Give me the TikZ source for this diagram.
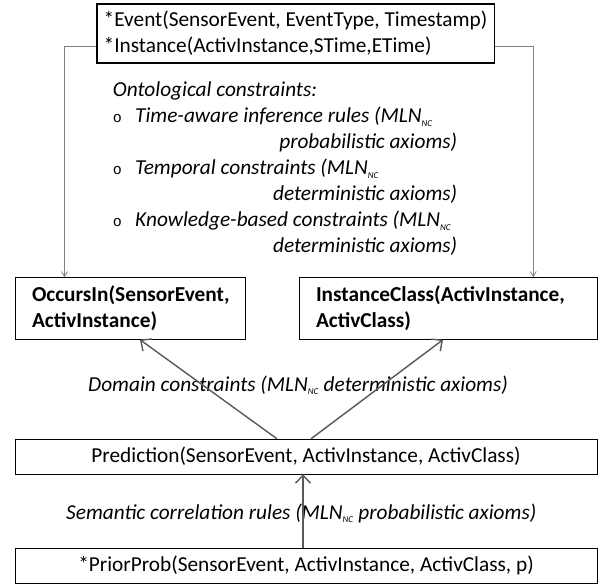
\documentclass[tikz,border=0pt]{standalone}
\usepackage{fontspec}
\usepackage{array}
\setmainfont{Carlito}
\newfontfamily\bulletfont{Liberation Mono}
\usetikzlibrary{arrows.meta}

\newcommand{\mlnnc}{MLN\textsubscript{\fontsize{9}{9}\selectfont NC}}
\newcommand{\obul}{{\upshape\bulletfont\fontsize{15}{15}\selectfont o}}

\begin{document}
\begin{tikzpicture}[x=1pt, y=-1pt,
    every node/.style={font=\fontsize{21.3}{26}\selectfont},
    predbox/.style={draw,
      minimum width=582pt,
      minimum height=35pt,
      inner sep=0pt},
    outbox/.style={draw,
      align=left,
      font=\fontsize{21.3}{26}\selectfont\bfseries,
      inner xsep=17pt,
      inner ysep=0pt,
      minimum height=62pt},
    thinarrow/.style={-{Straight Barb[length=5pt,width=6pt]},
      draw=gray, line width=0.8pt},
    thickarrow/.style={-{Straight Barb[length=8pt,width=15pt]},
      draw=black!65, line width=1.4pt}]

    \useasboundingbox (0,0) rectangle (613,585);

    % Event / Instance input
    \node[draw,
      line width=1.6pt,
      align=left,
      inner xsep=5pt,
      minimum width=397.6pt,
      minimum height=58.7pt] (obs) at (295.5,33.4)
      {*Event(SensorEvent, EventType, Timestamp)\\{}*Instance(ActivInstance,STime,ETime)};

    % Ontological constraints
    \node[anchor=base west, inner sep=0pt] (onto) at (112.7,97) {%
      \begin{tabular}[t]{@{}p{22.3pt}@{}>{\itshape}p{322pt}@{}}
        \multicolumn{2}{@{}l@{}}{\itshape Ontological constraints:}\\
        \obul & \mbox{Time-aware inference rules (\mlnnc}\\
              & \hfill probabilistic axioms)\\
        \obul & \mbox{Temporal constraints (\mlnnc}\\
              & \hfill deterministic axioms)\\
        \obul & \mbox{Knowledge-based constraints (\mlnnc}\\
              & \hfill deterministic axioms)
      \end{tabular}};

    % Outputs
    \node[outbox, text width=196pt] (occ) at (130,308.5)
      {OccursIn(SensorEvent,\\ActivInstance)};
    \node[outbox, text width=264pt] (ic) at (448,308.5)
      {InstanceClass(ActivInstance,\\ActivClass)};

    % Prediction and prior
    \node[predbox] (pred) at (306,456.5)
      {Prediction(SensorEvent, ActivInstance, ActivClass)};
    \node[predbox] (prior) at (306,565.5)
      {*PriorProb(SensorEvent, ActivInstance, ActivClass, p)};

    % Rule labels
    \node[anchor=west, inner sep=0pt] (domain) at (88,385)
      {\itshape Domain constraints (\mlnnc{} deterministic axioms)};
    \node[anchor=west, inner sep=0pt] (semantic) at (66,513)
      {\itshape Semantic correlation rules (\mlnnc{} probabilistic axioms)};

    % Draw Arrows
    \draw[thinarrow] ([yshift=-13.3pt]obs.west) -| ([xshift=-65.5pt]occ.north);
    \draw[thinarrow] ([yshift=-12.6pt]obs.east) -| ([xshift=85.3pt]ic.north);

    \draw[thickarrow] ([xshift=-29pt]pred.north) -- ([xshift=10pt]occ.south);
    \draw[thickarrow] ([xshift=5pt]pred.north) -- ([xshift=-5pt]ic.south);

    \draw[thickarrow] ([xshift=-3pt]prior.north) -- ([xshift=-3pt]pred.south);
  \end{tikzpicture}
\end{document}
